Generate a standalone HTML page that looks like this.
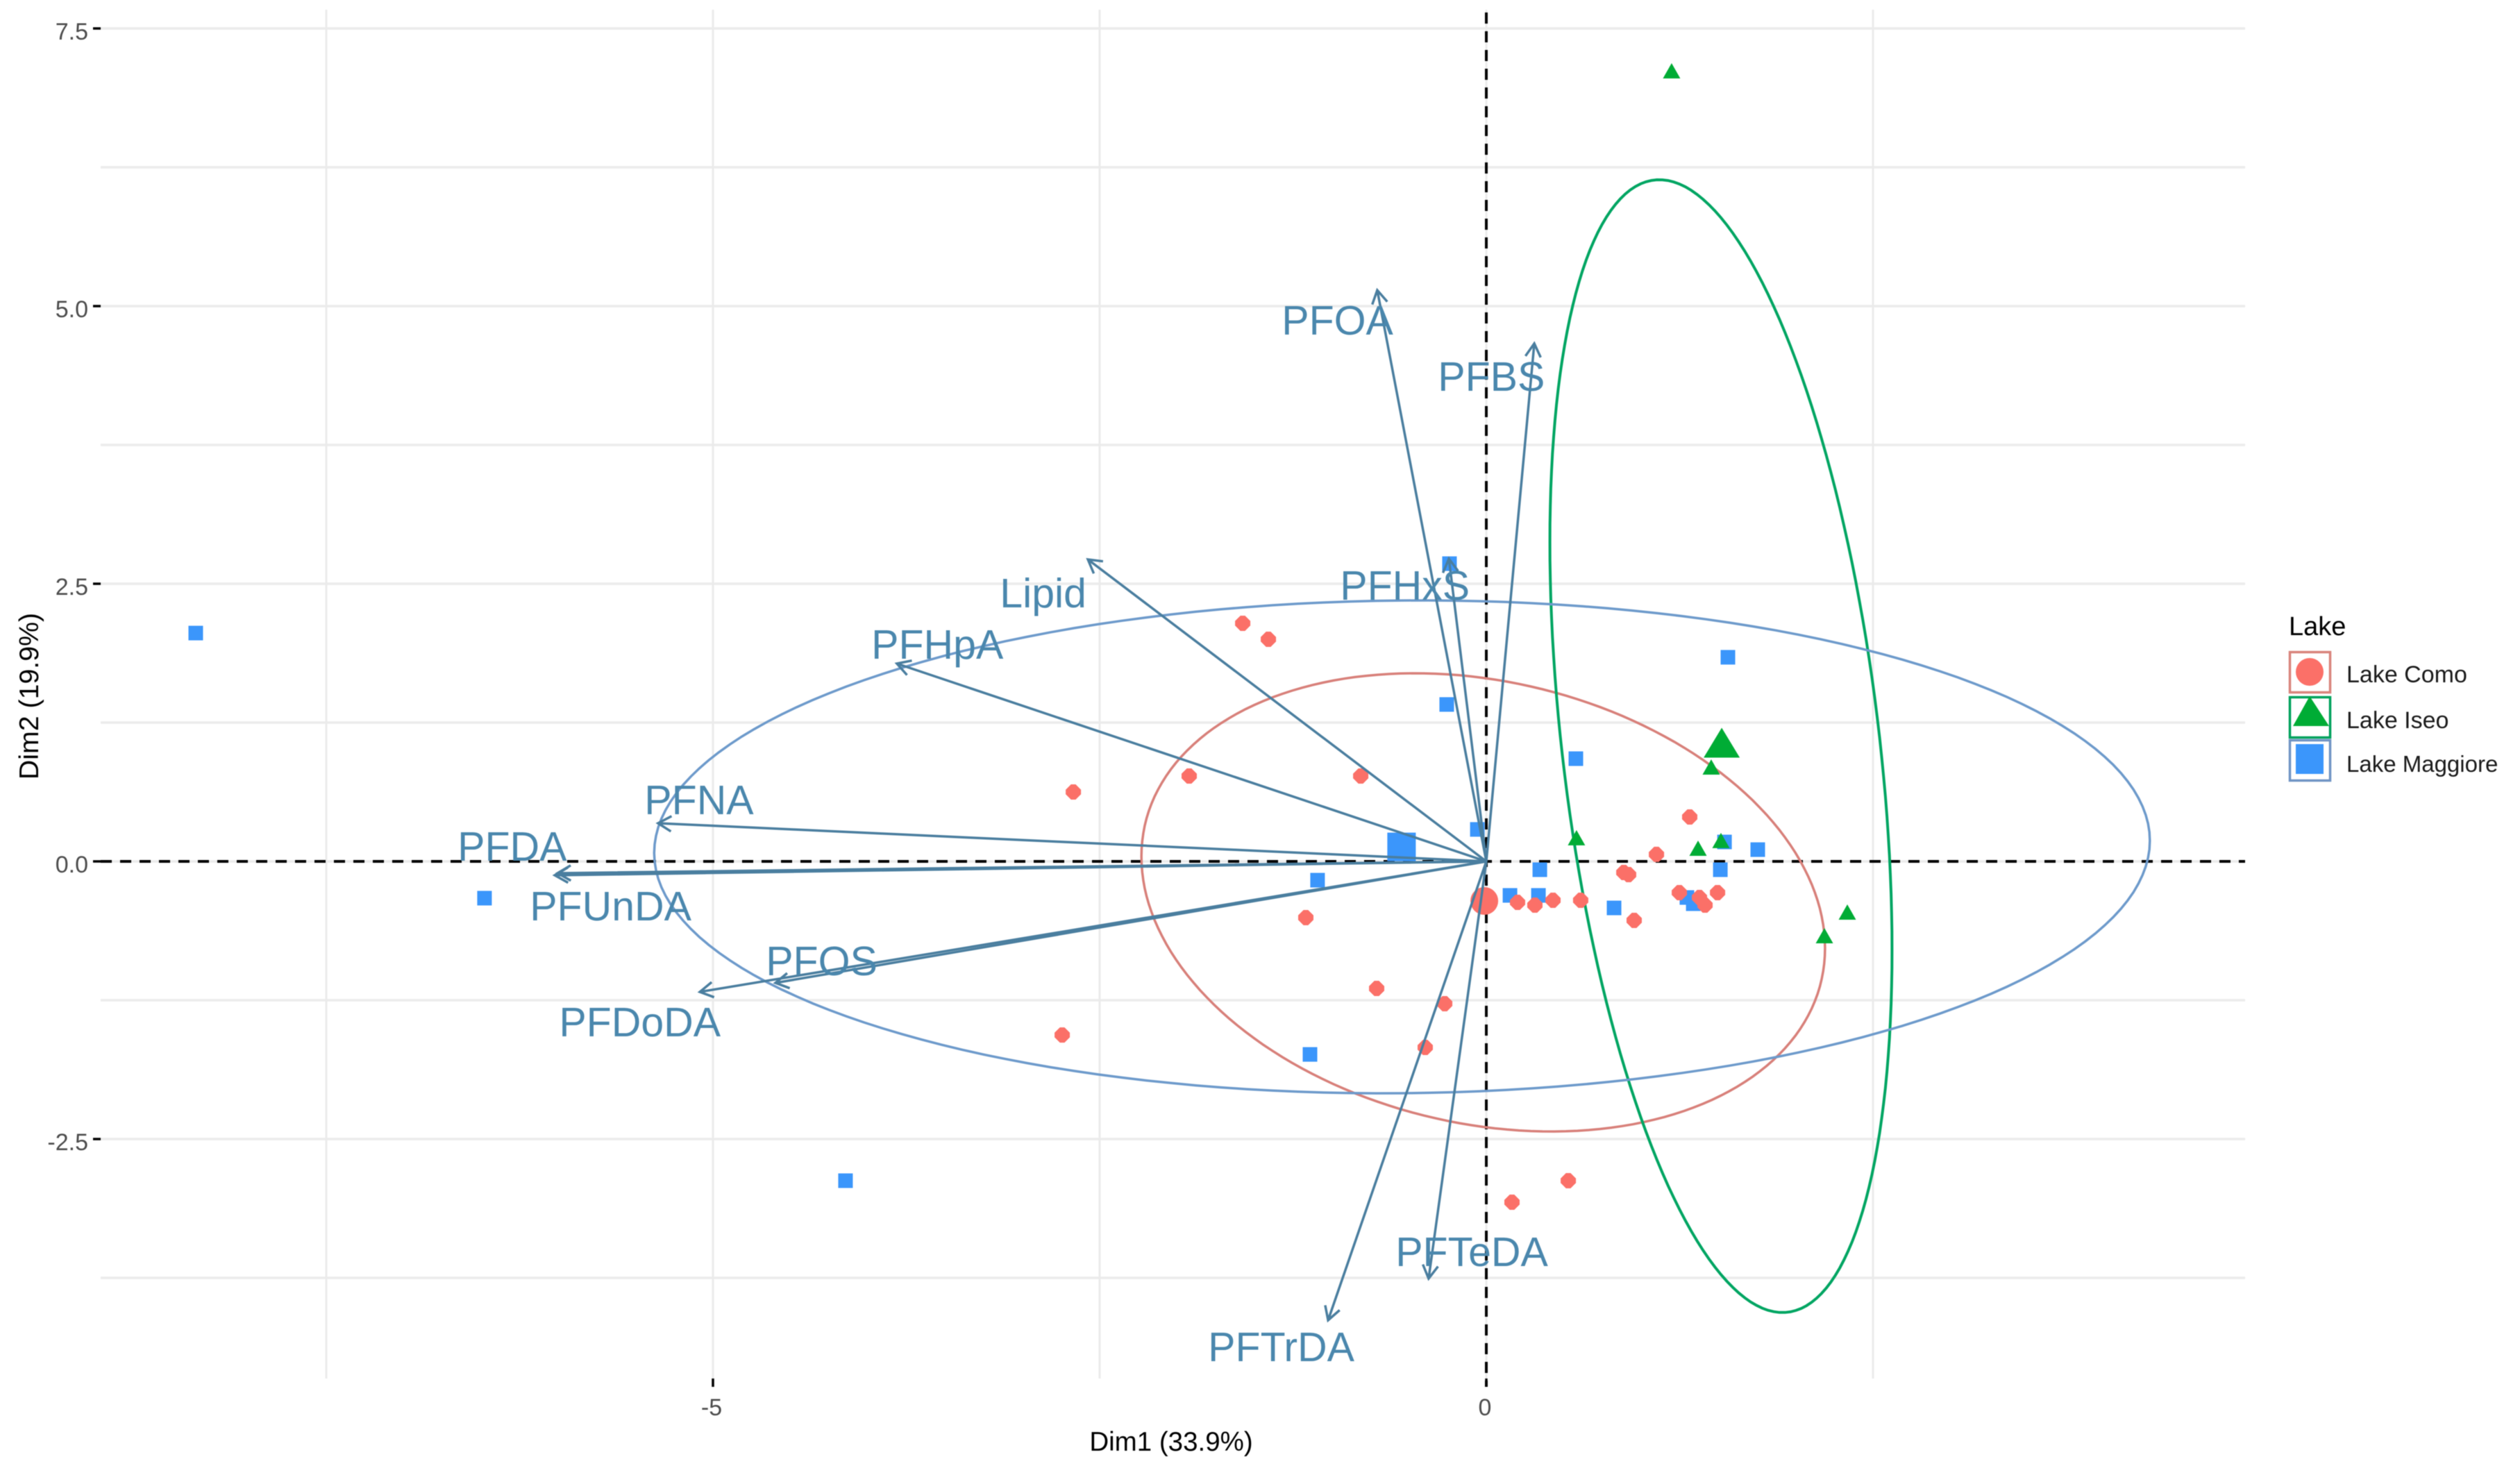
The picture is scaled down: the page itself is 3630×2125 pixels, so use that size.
<!DOCTYPE html>
<html lang="en">
<head>
<meta charset="utf-8">
<title>PCA biplot of PFAS by lake</title>
<style>
html,body{margin:0;padding:0;background:#fff;}
svg{display:block;font-family:"Liberation Sans",sans-serif;filter:blur(0.6px);}
</style>
</head>
<body>
<svg id="chart" xmlns="http://www.w3.org/2000/svg" width="3630" height="2125" viewBox="0 0 3630 2125">
  <rect width="3630" height="2125" fill="#fff"/>
  <g id="plot"></g>
  <text x="1687" y="2090" font-size="38.5" text-anchor="middle" fill="#000">Dim1 (33.9%)</text>
  <text transform="translate(55 1003) rotate(-90)" font-size="39.3" text-anchor="middle" fill="#000">Dim2 (19.9%)</text>
  <g>
    <text x="3297" y="915" font-size="38" fill="#000">Lake</text>
    <g>
      <rect x="3298.5" y="939.5" width="58" height="58" fill="#fff" stroke="#d9847c" stroke-width="3.5"/>
      <circle cx="3327" cy="968" r="20" fill="#fb7068"/>
      <text x="3380" y="983" font-size="34" fill="#1a1a1a">Lake Como</text>
    </g>
    <g>
      <rect x="3298.5" y="1004.5" width="58" height="58" fill="#fff" stroke="#00a15c" stroke-width="3.5"/>
      <polygon points="3327,1003 3355,1046 3303,1046" fill="#00ac35"/>
      <text x="3380" y="1049" font-size="34" fill="#1a1a1a">Lake Iseo</text>
    </g>
    <g>
      <rect x="3298.5" y="1066.5" width="58" height="58" fill="#fff" stroke="#6f94c4" stroke-width="3.5"/>
      <rect x="3307" y="1072" width="40" height="43" fill="#3b96fb"/>
      <text x="3380" y="1112" font-size="33" fill="#1a1a1a">Lake Maggiore</text>
    </g>
  </g>
</svg>
<script>
// Axis tick values
var majorX = [-5, 0];
var minorX = [-7.5, -2.5, 2.5];
var majorY = [-2.5, 0, 2.5, 5, 7.5];
var minorY = [-3.75, -1.25, 1.25, 3.75, 6.25];
var xTickLabels = ['-5', '0'];
var yTickLabels = ['-2.5', '0.0', '2.5', '5.0', '7.5'];

// Individuals (Dim1, Dim2)
var comoDim1 = [-1.921, -0.812, 1.315, 1.100, 0.889, 0.920, 1.248, 1.378, 1.414, 1.495, 0.202, 0.314, 0.431, 0.610, 0.956, -1.167, -0.709, -0.269, -1.575, -1.409, -2.742, -0.395, 0.166, 0.530, -2.670];
var comoDim2 = [0.769, 0.769, 0.400, 0.063, -0.100, -0.119, -0.281, -0.325, -0.394, -0.281, -0.369, -0.394, -0.350, -0.350, -0.531, -0.506, -1.144, -1.281, 2.144, 2.000, -1.563, -1.675, -3.069, -2.875, 0.625];
var iseoDim1 = [1.454, 0.583, 1.369, 1.517, 2.334, 2.186, 1.198];
var iseoDim2 = [0.850, 0.213, 0.119, 0.188, -0.456, -0.669, 7.119];
var maggioreDim1 = [-0.256, 0.579, 1.540, 1.755, 0.346, 1.513, 0.153, 0.337, 0.826, 1.297, 1.338, -1.091, -0.058, -0.238, 1.562, -8.344, -6.477, -4.143, -1.140];
var maggioreDim2 = [1.413, 0.925, 0.175, 0.106, -0.075, -0.075, -0.306, -0.306, -0.419, -0.325, -0.381, -0.169, 0.288, 2.681, 1.838, 2.056, -0.331, -2.875, -1.738];

// Group centroids: Como, Iseo, Maggiore
var centroidDim1 = [-0.013, 1.522, -0.548];
var centroidDim2 = [-0.356, 1.069, 0.131];

// Concentration ellipses: centre, spread and correlation per group
var ellipseCenter1 = [-0.020, 1.517, -0.545];
var ellipseCenter2 = [-0.369, 1.038, 0.131];
var ellipseSpread1 = [2.210, 1.106, 4.835];
var ellipseSpread2 = [2.063, 5.100, 2.219];
var ellipseRho = [-0.200, -0.360, 0.025];

// Variable loadings
var varNames = ['PFOA', 'PFBS', 'PFHxS', 'Lipid', 'PFHpA', 'PFNA', 'PFDA', 'PFUnDA', 'PFOS', 'PFDoDA', 'PFTeDA', 'PFTrDA'];
var varDim1 = [-0.705, 0.310, -0.242, -2.576, -3.811, -5.355, -6.005, -6.023, -4.596, -5.085, -0.373, -1.023];
var varDim2 = [5.144, 4.663, 2.725, 2.719, 1.781, 0.344, -0.106, -0.125, -1.094, -1.175, -3.756, -4.131];
var varLabelDim1 = [-1.323, -0.313, -0.946, -3.145, -3.976, -5.443, -6.651, -6.184, -4.658, -5.995, -0.587, -1.799];
var varLabelDim2 = [4.744, 4.238, 2.356, 2.288, 1.825, 0.425, 0.006, -0.531, -1.025, -1.575, -3.644, -4.500];

var NS = 'http://www.w3.org/2000/svg';
var plot = document.getElementById('plot');
var panelLeft = 145, panelRight = 3234, panelTop = 14, panelBottom = 1986;
function sx(v) { return 2141 + 222.8 * v; }
function sy(v) { return 1241 - 160 * v; }
function add(tag, parent) {
  var el = document.createElementNS(NS, tag);
  (parent || plot).appendChild(el);
  return el;
}
function line(x1, y1, x2, y2, color, width) {
  var el = add('line');
  el.setAttribute('x1', x1);
  el.setAttribute('y1', y1);
  el.setAttribute('x2', x2);
  el.setAttribute('y2', y2);
  el.setAttribute('stroke', color);
  el.setAttribute('stroke-width', width);
  return el;
}

// Gridlines
minorX.concat(majorX).forEach(function (v) {
  var el = line(sx(v), panelTop, sx(v), panelBottom, '#ebebeb', 3);
  
  
});
minorY.concat(majorY).forEach(function (v) {
  var el = line(panelLeft, sy(v), panelRight, sy(v), '#ebebeb', 3.5);
  
  
});

// Ticks and tick labels
majorX.forEach(function (v, i) {
  var tick = line(sx(v), panelBottom, sx(v), panelBottom + 12, '#000', 3.5);
  
  
  var t = add('text');
  
  
  t.setAttribute('x', sx(v) - 2);
  t.setAttribute('y', 2039);
  t.setAttribute('font-size', 34);
  t.setAttribute('text-anchor', 'middle');
  t.setAttribute('fill', '#4d4d4d');
  t.textContent = xTickLabels[i];
});
majorY.forEach(function (v, i) {
  var tick = line(panelLeft - 11, sy(v), panelLeft, sy(v), '#000', 3.5);
  
  
  var t = add('text');
  
  
  t.setAttribute('x', 127);
  t.setAttribute('y', sy(v) + 16);
  t.setAttribute('font-size', 34);
  t.setAttribute('text-anchor', 'end');
  t.setAttribute('fill', '#4d4d4d');
  t.textContent = yTickLabels[i];
});

// Zero reference lines
var hZero = line(panelLeft, sy(0), panelRight, sy(0), '#000', 4);
hZero.setAttribute('stroke-dasharray', '16 12');


var vZero = line(sx(0), panelTop + 4, sx(0), panelBottom + 12, '#000', 4);
vZero.setAttribute('stroke-dasharray', '16 11');



// Ellipses
var ellipseColors = ['#d8807a', '#00a562', '#6d9acb'];
var ellipseWidths = [3.5, 4, 3.5];
ellipseColors.forEach(function (color, g) {
  var d = '';
  var rho = ellipseRho[g];
  var root = Math.sqrt(1 - rho * rho);
  for (var k = 0; k <= 180; k++) {
    var t = k / 180 * 2 * Math.PI;
    var vx = ellipseCenter1[g] + ellipseSpread1[g] * Math.cos(t);
    var vy = ellipseCenter2[g] + ellipseSpread2[g] * (rho * Math.cos(t) + root * Math.sin(t));
    d += (k ? 'L' : 'M') + sx(vx).toFixed(1) + ' ' + sy(vy).toFixed(1);
  }
  var p = add('path');
  p.setAttribute('d', d + 'Z');
  p.setAttribute('fill', 'none');
  p.setAttribute('stroke', color);
  p.setAttribute('stroke-width', ellipseWidths[g]);
  
  
});

// Point drawing
function octPoint(x, y, r, name) {
  var c = add('polygon');
  var q = r * 0.3;
  c.setAttribute('points', [
    [x - q, y - r], [x + q, y - r], [x + r, y - q], [x + r, y + q],
    [x + q, y + r], [x - q, y + r], [x - r, y + q], [x - r, y - q]
  ].join(' '));
  c.setAttribute('fill', '#fb7068');
  
  
}
function circlePoint(x, y, r, name) {
  var c = add('circle');
  c.setAttribute('cx', x);
  c.setAttribute('cy', y);
  c.setAttribute('r', r);
  c.setAttribute('fill', '#fb7068');
  
  
}
function trianglePoint(x, y, w, h, name) {
  var p = add('polygon');
  p.setAttribute('points', x + ',' + (y - h / 2) + ' ' + (x + w / 2) + ',' + (y + h / 2) + ' ' + (x - w / 2) + ',' + (y + h / 2));
  p.setAttribute('fill', '#00ac35');
  
  
}
function squarePoint(x, y, s, name) {
  var r = add('rect');
  r.setAttribute('x', x - s / 2);
  r.setAttribute('y', y - s / 2);
  r.setAttribute('width', s);
  r.setAttribute('height', s);
  r.setAttribute('fill', '#3b96fb');
  
  
}
maggioreDim1.forEach(function (v, i) {
  squarePoint(sx(v), sy(maggioreDim2[i]), 21, 'point-lake-maggiore');
});
comoDim1.forEach(function (v, i) {
  octPoint(sx(v), sy(comoDim2[i]), 11, 'point-lake-como');
});
iseoDim1.forEach(function (v, i) {
  trianglePoint(sx(v), sy(iseoDim2[i]), 25, 22, 'point-lake-iseo');
});
circlePoint(sx(centroidDim1[0]), sy(centroidDim2[0]), 20, 'centroid-lake-como');
trianglePoint(sx(centroidDim1[1]), sy(centroidDim2[1]), 52, 43, 'centroid-lake-iseo');
squarePoint(sx(centroidDim1[2]), sy(centroidDim2[2]), 41, 'centroid-lake-maggiore');

// Variable arrows
var arrowColor = '#4a7e9f';
varNames.forEach(function (name, i) {
  var x0 = sx(0), y0 = sy(0), x1 = sx(varDim1[i]), y1 = sy(varDim2[i]);
  var ang = Math.atan2(y1 - y0, x1 - x0);
  var head = 22, spread = Math.PI / 6;
  var d = 'M' + x0 + ' ' + y0 + 'L' + x1.toFixed(1) + ' ' + y1.toFixed(1);
  d += 'M' + (x1 - head * Math.cos(ang - spread)).toFixed(1) + ' ' + (y1 - head * Math.sin(ang - spread)).toFixed(1);
  d += 'L' + x1.toFixed(1) + ' ' + y1.toFixed(1);
  d += 'L' + (x1 - head * Math.cos(ang + spread)).toFixed(1) + ' ' + (y1 - head * Math.sin(ang + spread)).toFixed(1);
  var p = add('path');
  p.setAttribute('d', d);
  p.setAttribute('fill', 'none');
  p.setAttribute('stroke', arrowColor);
  p.setAttribute('stroke-width', 3.5);
  
  
});

// Variable labels
varNames.forEach(function (name, i) {
  var t = add('text');
  t.setAttribute('x', sx(varLabelDim1[i]));
  t.setAttribute('y', sy(varLabelDim2[i]));
  t.setAttribute('font-size', 59);
  t.setAttribute('fill', '#4a87ad');
  
  
  t.textContent = name;
});
</script>
</body>
</html>
